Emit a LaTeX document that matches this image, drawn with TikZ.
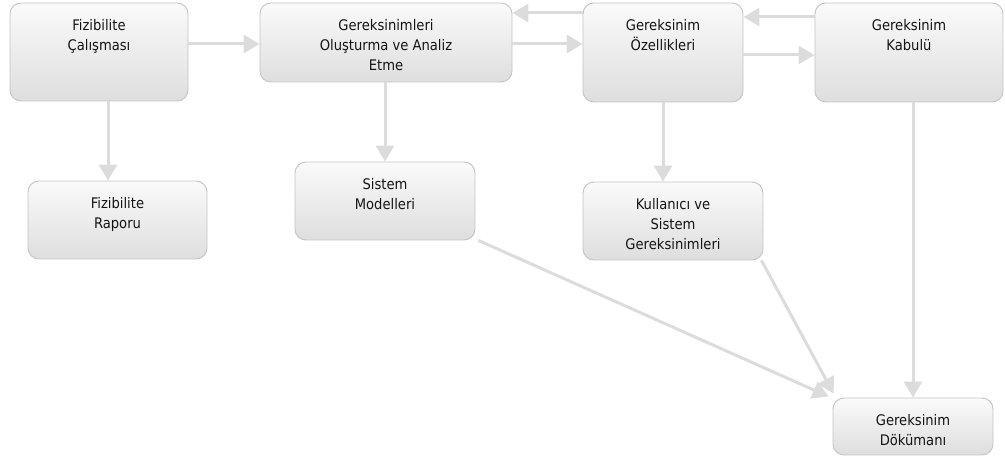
\documentclass[tikz,border=0pt]{standalone}
\usepackage{fontspec}
\setmainfont{DejaVu Sans Condensed}
\usetikzlibrary{arrows.meta}
\definecolor{boxline}{HTML}{C4C4C4}
\definecolor{boxtop}{HTML}{FAFAFA}
\definecolor{boxbot}{HTML}{DEDEDE}
\definecolor{conn}{HTML}{DCDCDC}
\definecolor{txt}{HTML}{141414}
\tikzset{
  procbox/.style={draw=boxline, line width=0.9pt, rounded corners=11pt,
    top color=boxtop, bottom color=boxbot, inner sep=0pt},
  boxtext/.style={anchor=north, align=center, text=txt, yshift=-13pt,
    font=\fontsize{14.6pt}{20pt}\selectfont},
  flow/.style={draw=conn, line width=3pt,
    -{Triangle[length=16pt,width=18pt,fill=conn]}}
}
\begin{document}
\begin{tikzpicture}[x=1pt,y=-1pt]
\useasboundingbox (0,0) rectangle (1005,462);

% process boxes
\node[procbox, minimum width=178pt, minimum height=98pt,
  label={[boxtext]north:Fizibilite\\Çalışması}] (fc) at (99,52) {};
\node[procbox, minimum width=252pt, minimum height=79pt,
  label={[boxtext]north:Gereksinimleri\\Oluşturma ve Analiz\\Etme}] (goa) at (386,42.5) {};
\node[procbox, minimum width=160pt, minimum height=99pt,
  label={[boxtext]north:Gereksinim\\Özellikleri}] (go) at (663,52.5) {};
\node[procbox, minimum width=188pt, minimum height=99pt,
  label={[boxtext]north:Gereksinim\\Kabulü}] (gk) at (909,52.5) {};
\node[procbox, minimum width=179pt, minimum height=78pt,
  label={[boxtext]north:Fizibilite\\Raporu}] (fr) at (117.5,220) {};
\node[procbox, minimum width=180pt, minimum height=78pt,
  label={[boxtext]north:Sistem\\Modelleri}] (sm) at (385,201) {};
\node[procbox, minimum width=180pt, minimum height=78pt,
  label={[boxtext]north:Kullanıcı ve\\Sistem\\Gereksinimleri}] (ks) at (673,221) {};
\node[procbox, minimum width=160pt, minimum height=57pt,
  label={[boxtext]north:Gereksinim\\Dökümanı}] (gd) at (913,426.5) {};

% horizontal flows
\draw[flow] ([yshift=8pt]fc.east) -- ([yshift=-1.5pt]goa.west);
\draw[flow] ([yshift=-1.5pt]goa.east) -- ([yshift=8.5pt]go.west);
\draw[flow] ([yshift=39.5pt]go.west) -- ([yshift=29.5pt]goa.east);
\draw[flow] ([yshift=-2.5pt]go.east) -- ([yshift=-2.5pt]gk.west);
\draw[flow] ([yshift=35.5pt]gk.west) -- ([yshift=35.5pt]go.east);

% vertical flows
\draw[flow] ([xshift=9pt]fc.south) -- ([xshift=-9.5pt]fr.north);
\draw[flow] ([xshift=-1pt]goa.south) -- (sm.north);
\draw[flow] (go.south) -- ([xshift=-10pt]ks.north);
\draw[flow] ([xshift=4pt]gk.south) -- (gd.north);

% diagonal flows into the document
\draw[flow] ([xshift=3pt]sm.south east) -- ([shift={(-4pt,1pt)}]gd.north west);
\draw[flow] ([xshift=-2pt]ks.south east) -- ([shift={(1pt,4pt)}]gd.north west);
\end{tikzpicture}
\end{document}
